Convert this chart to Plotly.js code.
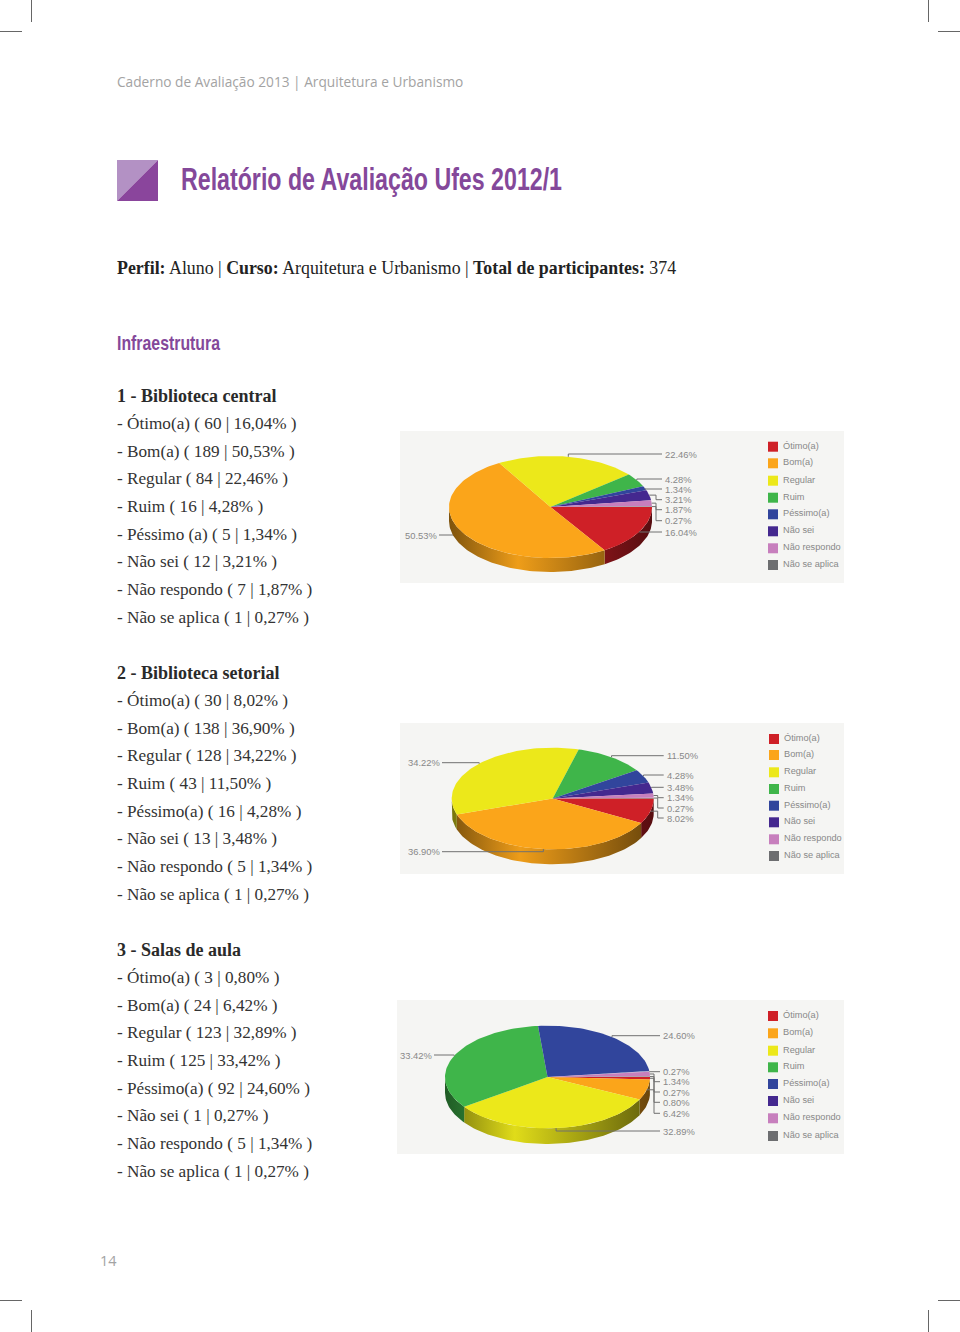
<!DOCTYPE html>
<html>
<head>
<meta charset="utf-8">
<script src="https://cdn.plot.ly/plotly-3.0.1.min.js"></script>
<style>html,body{margin:0;padding:0;background:#fff}#chart{width:960px;height:1332px}</style>
</head>
<body>
<div id="chart"></div>
<script>
// ---------- data ----------
const categories = ["Ótimo(a)", "Bom(a)", "Regular", "Ruim", "Péssimo(a)", "Não sei", "Não respondo", "Não se aplica"];
const listCategories1 = ["Ótimo(a)", "Bom(a)", "Regular", "Ruim", "Péssimo (a)", "Não sei", "Não respondo", "Não se aplica"];
const colors = ["#cf2027", "#fba51a", "#ece81a", "#3fb54a", "#31459c", "#44288f", "#c77fbd", "#6d6e70"];
const counts1 = [60, 189, 84, 16, 5, 12, 7, 1];
const counts2 = [30, 138, 128, 43, 16, 13, 5, 1];
const counts3 = [3, 24, 123, 125, 92, 1, 5, 1];
const titles = ["1 - Biblioteca central", "2 - Biblioteca setorial", "3 - Salas de aula"];
const total = 374;

// ---------- layout configuration (page pixels) ----------
const W = 960, H = 1332;
const charts = [
  { counts: counts1, list: listCategories1, titleY: 396,
    panel: [400, 844, 431, 583], cx: 550.5, cy: 507, rx: 101.5, ry: 51, depth: 14,
    legendX: 768, textX: 782, legendY: [446.7, 463.3, 480.7, 497.7, 514.3, 531.3, 548.3, 565],
    labelRightX: 664, labelLeftX: 404,
    labelY: [532, 535, 454, 479, 489, 499.7, 509.7, 520.7], under: [1] },
  { counts: counts2, list: categories, titleY: 673,
    panel: [400, 844, 723, 874], cx: 552.7, cy: 798.5, rx: 101, ry: 50.8, depth: 15,
    legendX: 769, textX: 783, legendY: [739, 755, 772.3, 789, 805.7, 822.3, 839.3, 856],
    labelRightX: 665.7, labelLeftX: 407,
    labelY: [818, 851.7, 762.7, 755.7, 775, 787.3, 797.7, 808], under: [] },
  { counts: counts3, list: categories, titleY: 950,
    panel: [397, 844, 1000, 1154], cx: 547.5, cy: 1077, rx: 102.5, ry: 51.3, depth: 15.7,
    legendX: 768, textX: 782, legendY: [1016, 1033.3, 1050.7, 1067.3, 1084, 1101, 1118.3, 1136],
    labelRightX: 662, labelLeftX: 399,
    labelY: [1102.3, 1113.3, 1131, 1055, 1035.7, 1071.7, 1081.7, 1092], under: [] }
];
const lineStep = 27.65;
const serif = "Liberation Serif, serif";
const sans = "Liberation Sans, Arial, sans-serif";

// ---------- helpers ----------
const px = x => x / W, py = y => 1 - y / H;
const pct = (n) => (n / total * 100).toFixed(2);
function shade(hex, f) {
  const v = [1, 3, 5].map(i => Math.round(parseInt(hex.substr(i, 2), 16) * f));
  return `rgb(${v[0]},${v[1]},${v[2]})`;
}
function arc(c, a0, a1, dy) {
  const n = Math.max(2, Math.ceil(Math.abs(a1 - a0) / 0.03));
  const xs = [], ys = [];
  for (let i = 0; i <= n; i++) {
    const t = a0 + (a1 - a0) * i / n;
    xs.push(c.cx + c.rx * Math.cos(t));
    ys.push(c.cy + c.ry * Math.sin(t) + dy);
  }
  return [xs, ys];
}

const traces = [], annotations = [], shapes = [];
const layout = {
  width: W, height: H, margin: { l: 0, r: 0, t: 0, b: 0 },
  paper_bgcolor: "#ffffff", plot_bgcolor: "#f5f5f3", showlegend: false,
  hovermode: false
};

function pageText(text, x, y, size, color, family, weight) {
  annotations.push({ xref: "paper", yref: "paper", x: px(x), y: py(y), text, showarrow: false,
    xanchor: "left", yanchor: "middle", borderpad: 0, font: { size, color, family, weight: weight || "normal" } });
}

charts.forEach((c, ci) => {
  const sfx = ci === 0 ? "" : String(ci + 1);
  const xa = "x" + sfx, ya = "y" + sfx;
  const base = { visible: true, fixedrange: true, showgrid: false, zeroline: false, showticklabels: false, ticks: "", showline: false };
  layout["xaxis" + sfx] = { ...base, range: [c.panel[0], c.panel[1]], domain: [px(c.panel[0]), px(c.panel[1])], anchor: ya };
  layout["yaxis" + sfx] = { ...base, range: [c.panel[3], c.panel[2]], domain: [py(c.panel[3]), py(c.panel[2])], anchor: xa };
  const sum = c.counts.reduce((a, b) => a + b, 0);

  const angles = [];
  let acc = 0;
  c.counts.forEach(v => { const a0 = acc / sum * 2 * Math.PI; acc += v; angles.push([a0, acc / sum * 2 * Math.PI]); });

  const leader = i => {
    const mid = (angles[i][0] + angles[i][1]) / 2;
    const sx = c.cx + c.rx * Math.cos(mid), sy = c.cy + c.ry * Math.sin(mid);
    const ly = c.labelY[i];
    const right = Math.cos(mid) > 0;
    let xs, ys;
    if (right) {
      const lx = c.labelRightX;
      if (lx - sx > 35 || Math.abs(sy - ly) < 2) { xs = [sx, sx, lx - 2]; ys = [sy, ly, ly]; }
      else { xs = [sx, lx - 8, lx - 8, lx - 2]; ys = [sy, sy, ly, ly]; }
    } else {
      const lx = c.labelLeftX + 35;
      xs = [sx, sx, lx]; ys = [sy, ly, ly];
    }
    return { type: "scatter", mode: "lines", x: xs, y: ys, xaxis: xa, yaxis: ya, hoverinfo: "skip",
      line: { color: "#707070", width: 1 } };
  };
  c.under.forEach(i => traces.push(leader(i)));

  // side wall, front half only
  c.counts.forEach((v, i) => {
    const a0 = angles[i][0], a1 = Math.min(angles[i][1], Math.PI);
    if (a0 >= Math.PI) return;
    const [tx, ty] = arc(c, a0, a1, 0);
    const [bx, by] = arc(c, a1, a0, c.depth);
    traces.push({ type: "scatter", mode: "lines", x: tx.concat(bx), y: ty.concat(by), xaxis: xa, yaxis: ya,
      hoverinfo: "skip", fill: "toself", line: { width: 0, color: "rgba(0,0,0,0)" },
      fillgradient: { type: "horizontal", start: c.cx - c.rx, stop: c.cx + c.rx,
        colorscale: [[0, shade(colors[i], 0.5)], [0.34, shade(colors[i], 0.95)], [1, shade(colors[i], 0.42)]] } });
  });
  // top face
  c.counts.forEach((v, i) => {
    const [ax, ay] = arc(c, angles[i][0], angles[i][1], 0);
    traces.push({ type: "scatter", mode: "lines", x: [c.cx].concat(ax, [c.cx]), y: [c.cy].concat(ay, [c.cy]),
      xaxis: xa, yaxis: ya, hoverinfo: "skip", fill: "toself", fillcolor: colors[i],
      line: { width: 0, color: colors[i] }, name: categories[i] });
  });
  // leaders & value labels
  c.counts.forEach((v, i) => {
    if (!c.under.includes(i)) traces.push(leader(i));
    const mid = (angles[i][0] + angles[i][1]) / 2;
    annotations.push({ xref: xa, yref: ya, x: Math.cos(mid) > 0 ? c.labelRightX : c.labelLeftX, y: c.labelY[i],
      text: pct(v) + "%", showarrow: false, xanchor: "left", yanchor: "middle", borderpad: 0,
      font: { size: 9.4, color: "#888888", family: sans } });
  });
  // legend
  traces.push({ type: "scatter", mode: "markers", x: categories.map(() => c.legendX + 5), y: c.legendY,
    xaxis: xa, yaxis: ya, hoverinfo: "skip",
    marker: { symbol: "square", size: 10, color: colors, line: { width: 0 } } });
  categories.forEach((name, i) => annotations.push({ xref: xa, yref: ya, x: c.textX, y: c.legendY[i] - 1, text: name,
    showarrow: false, xanchor: "left", yanchor: "middle", borderpad: 0,
    font: { size: 9.2, color: "#888888", family: sans } }));

  // text list
  pageText(titles[ci], 116, c.titleY, 18, "#2a2a2a", serif, "bold");
  c.counts.forEach((v, i) => pageText(`- ${c.list[i]} ( ${v} | ${pct(v).replace(".", ",")}% )`,
    116, c.titleY + lineStep * (i + 1), 17.2, "#333333", serif));
});

// page furniture
const mainTitle = "Relatório de Avaliação Ufes 2012/1", sectionTitle = "Infraestrutura";
pageText("Caderno de Avaliação 2013 | Arquitetura e Urbanismo", 116, 81.5, 13.7, "#a3a3a3", "Open Sans, sans-serif");
pageText(mainTitle, 181, 179, 32, "#84489a", sans, "bold");
pageText("<b>Perfil:</b> Aluno | <b>Curso:</b> Arquitetura e Urbanismo | <b>Total de participantes:</b> 374", 116, 268, 17.85, "#222222", serif);
pageText(sectionTitle, 117, 342.5, 20.5, "#84489a", sans, "bold");
pageText("14", 99, 1260.5, 14.5, "#a3a3a3", "Open Sans, sans-serif");

const sq = (d, color) => ({ type: "path", xref: "paper", yref: "paper", path: d, fillcolor: color, line: { width: 0 }, layer: "above" });
const P = (x, y) => `${px(x)},${py(y)}`;
shapes.push(sq(`M${P(117,160)}L${P(158,160)}L${P(117,201)}Z`, "#b391c4"));
shapes.push(sq(`M${P(158,160)}L${P(158,201)}L${P(117,201)}Z`, "#8a459c"));
const mark = (x0, y0, x1, y1) => ({ type: "line", xref: "paper", yref: "paper", x0: px(x0), y0: py(y0), x1: px(x1), y1: py(y1), line: { color: "#666666", width: 1 } });
shapes.push(mark(31.5, 0, 31.5, 22), mark(0, 31.5, 22, 31.5), mark(928.5, 0, 928.5, 22), mark(938, 31.5, 960, 31.5),
  mark(31.5, 1310, 31.5, 1332), mark(0, 1300.5, 22, 1300.5), mark(928.5, 1310, 928.5, 1332), mark(938, 1300.5, 960, 1300.5));

layout.annotations = annotations;
layout.shapes = shapes;
// the reference's headings use a condensed face: fit them to their printed widths
const fitWidths = [[mainTitle, 181, 381], [sectionTitle, 117, 103]];
Plotly.newPlot("chart", traces, layout, { staticPlot: true, displayModeBar: false }).then(gd => {
  gd.querySelectorAll(".annotation-text").forEach(el => {
    const f = fitWidths.find(w => w[0] === el.textContent);
    if (!f) return;
    el.setAttribute("textLength", f[2]);
    el.setAttribute("lengthAdjust", "spacingAndGlyphs");
    const dx = f[1] - el.getBoundingClientRect().left;
    el.setAttribute("x", parseFloat(el.getAttribute("x") || 0) + dx);
  });
});
</script>
</body>
</html>
